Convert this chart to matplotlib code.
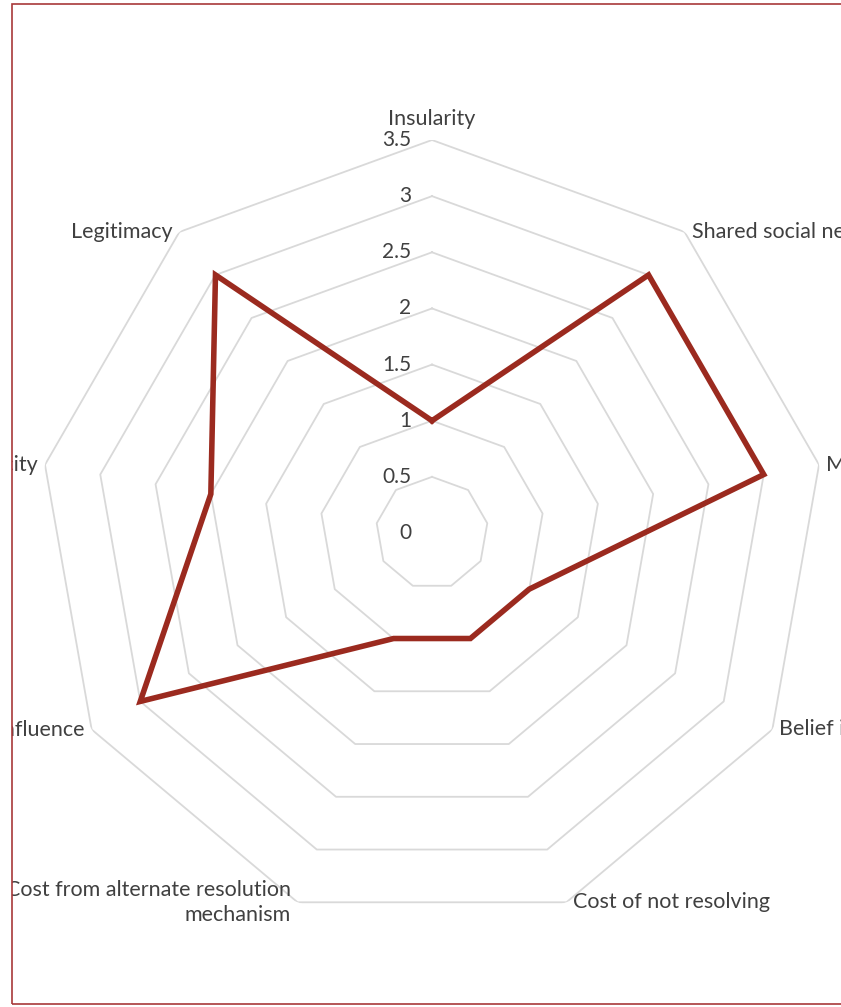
import numpy as np
import matplotlib.pyplot as plt
from matplotlib.patches import Rectangle

plt.rcParams['font.family'] = ['Lato', 'DejaVu Sans']

categories = ["Insularity", "Shared social networks", "Mutual dependence",
              "Belief in fairness", "Cost of not resolving",
              "Cost from alternate resolution\nmechanism",
              "External influence", "Reciprocity", "Legitimacy"]
values = [1, 3, 3, 1, 1, 1, 3, 2, 3]
ring_levels = [0.5, 1, 1.5, 2, 2.5, 3, 3.5]
tick_labels = ["0", "0.5", "1", "1.5", "2", "2.5", "3", "3.5"]

n = len(categories)
theta = np.arange(n) * 2 * np.pi / n
theta_c = np.append(theta, theta[0])

fig = plt.figure(figsize=(8.41, 10.07), dpi=100)
ax = fig.add_axes([39 / 841, 81 / 1007, 786 / 841, 786 / 1007], projection='polar')
ax.set_theta_zero_location('N')
ax.set_theta_direction(-1)
ax.set_ylim(0, 3.5)
ax.grid(False)
ax.spines['polar'].set_visible(False)
ax.set_xticks([])
ax.set_yticks([])
ax.patch.set_visible(False)

for r in ring_levels:
    ax.plot(theta_c, [r] * (n + 1), color='#d9d9d9', lw=1.3, zorder=1)

ax.plot(theta_c, values + values[:1], color='#9b2a1f', lw=4.0,
        solid_joinstyle='miter', zorder=3)

# radial tick labels
for i, lab in enumerate(tick_labels):
    ax.annotate(lab, xy=(0, i * 0.5), xytext=(-15, 0), textcoords='offset points',
                ha='right', va='center', fontsize=15, color='#404040')

# category labels
for t, lab in zip(theta, categories):
    deg = np.degrees(t)
    if deg == 0:
        off, ha, va = (0, 8), 'center', 'bottom'
    elif deg < 180:
        off, ha, va = (5, 0), 'left', 'center'
    else:
        off, ha, va = (-5, 0), 'right', 'center'
    ax.annotate(lab, xy=(t, 3.5), xytext=off, textcoords='offset points',
                ha=ha, va=va, fontsize=15.5, color='#404040',
                multialignment='right', linespacing=1.3)

# mask and frame
fig.patches.append(Rectangle((0, 0), 12 / 841, 1, transform=fig.transFigure,
                             facecolor='white', edgecolor='none', zorder=5))
fig.patches.append(Rectangle((12 / 841, 3 / 1007), 2, 1000 / 1007,
                             transform=fig.transFigure, facecolor='none',
                             edgecolor='#a8383a', lw=1.2, zorder=6))

fig.savefig('out.png', dpi=100)
